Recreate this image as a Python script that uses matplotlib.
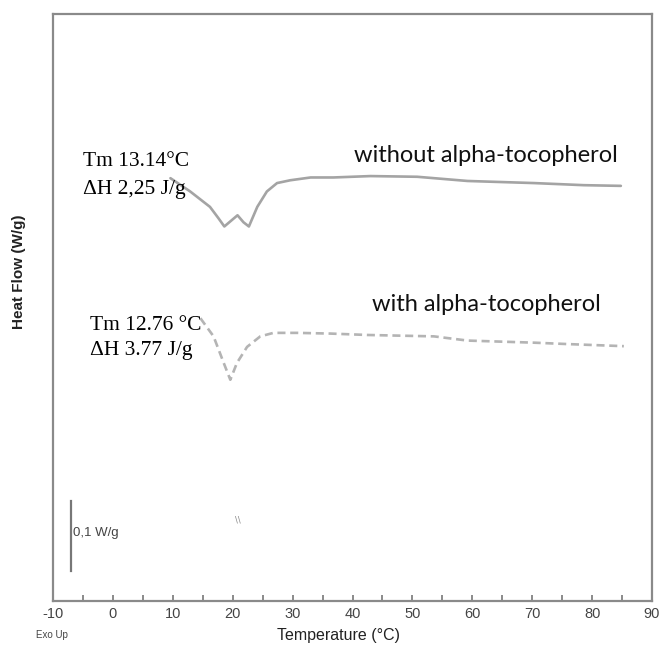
import matplotlib
matplotlib.use("Agg")
import matplotlib.pyplot as plt

# DSC traces (temperature in C, heat flow in W/g, arbitrary offset)
temp_without = [9.6, 12.9, 16.2, 17.6, 18.6, 19.7, 20.8, 21.8, 22.7, 24.1, 25.7, 27.4,
                29.6, 33.0, 36.8, 43.0, 50.8, 59.2, 70.3, 78.6, 84.8]
flow_without = [0.604, 0.585, 0.563, 0.547, 0.535, 0.543, 0.551, 0.541, 0.535, 0.563, 0.585, 0.597,
                0.601, 0.605, 0.605, 0.607, 0.606, 0.600, 0.597, 0.594, 0.593]

temp_with = [14.6, 16.8, 18.5, 19.6, 20.7, 22.4, 24.6, 26.8, 30.8, 36.3, 42.5, 53.6,
             59.2, 70.3, 75.9, 85.3]
flow_with = [0.404, 0.378, 0.340, 0.316, 0.340, 0.363, 0.378, 0.383, 0.383, 0.382, 0.380, 0.378,
             0.372, 0.369, 0.367, 0.364]

# scale bar 0,1 W/g
bar_x = -7.0
bar_y = [0.043, 0.143]

plt.rcParams['lines.scale_dashes'] = False
plt.rcParams['axes.unicode_minus'] = False

fig = plt.figure(figsize=(6.62, 6.46), dpi=100)
ax = fig.add_axes([0.0801, 0.0697, 0.9048, 0.9087])

ax.plot(temp_without, flow_without, color='#a4a4a4', lw=1.9,
        solid_joinstyle='round', solid_capstyle='round')
ax.plot(temp_with, flow_with, color='#b4b4b4', lw=1.9, dashes=(5.8, 3.4))
ax.plot([bar_x, bar_x], bar_y, color='#777777', lw=1.6)

ax.set_xlim(-10, 90)
ax.set_ylim(0, 0.8386)
ax.set_xticks(range(-10, 91, 10))
ax.set_xticks(range(-5, 90, 10), minor=True)
ax.set_yticks([])
ax.tick_params(axis='x', which='both', direction='in', length=4, width=1.2,
               color='#777777', labelsize=10.5, labelcolor='#444444', pad=4)
for lab in ax.get_xticklabels():
    lab.set_family('Liberation Sans')
for sp in ax.spines.values():
    sp.set_color('#8a8a8a')
    sp.set_linewidth(1.6)

serif = 'Liberation Serif'
ax.text(-5.0, 0.628, 'Tm 13.14\u00b0C', family=serif, fontsize=15.5, va='center', ha='left')
ax.text(-5.0, 0.588, '\u0394H 2,25 J/g', family=serif, fontsize=15.5, va='center', ha='left')
ax.text(-3.8, 0.394, 'Tm 12.76 \u00b0C', family=serif, fontsize=15.5, va='center', ha='left')
ax.text(-3.8, 0.358, '\u0394H 3.77 J/g', family=serif, fontsize=15.5, va='center', ha='left')

ax.text(40.2, 0.637, 'without alpha-tocopherol', family='Lato', fontsize=17,
        va='center', ha='left', color='#111111')
ax.text(43.2, 0.423, 'with alpha-tocopherol', family='Lato', fontsize=17,
        va='center', ha='left', color='#111111')

ax.text(-6.6, 0.097, '0,1 W/g', family='Liberation Sans', fontsize=9.5,
        va='center', ha='left', color='#444444')
ax.text(20.8, 0.115, '\\\\', fontsize=6, color='#888888', va='center', ha='center')

ax.set_ylabel('Heat Flow (W/g)', family='Liberation Sans', fontsize=11, fontweight='bold',
              color='#222222')
ax.yaxis.set_label_coords(-0.045, 0.56)
fig.text(0.5106, 0.0155, 'Temperature (\u00b0C)', family='Liberation Sans', fontsize=11.5,
         color='#222222', ha='center', va='center')
fig.text(0.054, 0.012, 'Exo Up', family='Liberation Sans', fontsize=7, color='#444444')

plt.savefig('out.png', dpi=100)
plt.close()
